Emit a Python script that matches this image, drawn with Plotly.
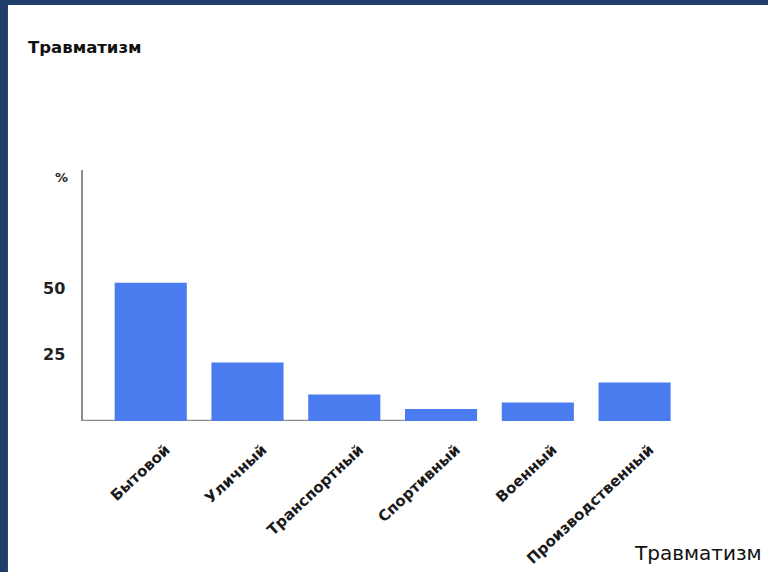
import plotly.graph_objects as go

categories = ["Бытовой", "Уличный", "Транспортный", "Спортивный", "Военный", "Производственный"]
values = [52, 22, 10, 4.5, 7, 14.5]
y_tick_vals = [25, 50]
y_tick_text = ["25", "50"]
chart_title = "Травматизм"
x_title = "Травматизм"
y_title = "%"

W, H = 768, 572
L, R, T, B = 83, 56.4, 170, 151
pw = W - L - R
ph = H - T - B

def px_to_paper_x(px):
    return (px - L) / pw

def px_to_paper_y(py):
    return (H - B - py) / ph

FONT = "DejaVu Sans"
NAVY = "#1f3d6b"
BLUE = "#4a7bef"

fig = go.Figure()
fig.add_trace(go.Bar(
    x=categories, y=values, width=0.745,
    marker=dict(color=BLUE, line=dict(width=0)),
    hoverinfo="skip",
))

fig.update_layout(
    width=W, height=H,
    margin=dict(l=L, r=R, t=T, b=B, pad=0, autoexpand=False),
    paper_bgcolor="white", plot_bgcolor="white",
    showlegend=False,
    title=dict(text=chart_title, x=28 / W, xanchor="left", xref="container",
               y=1 - 47 / H, yanchor="middle", yref="container",
               font=dict(family=FONT, size=16.5, color="#111111", weight=600)),
    xaxis=dict(range=[-0.7, 5.8], showgrid=False, zeroline=False, showline=False,
               automargin=False,
               tickangle=-43, ticks="", tickfont=dict(family=FONT, size=15, color="#1a1a1a", weight=600),
               ticklabelstandoff=16, ticklabelshift=15, fixedrange=True),
    yaxis=dict(range=[0, 94.4], showgrid=False, zeroline=False, showline=True,
               automargin=False,
               linecolor="#8c8c8c", linewidth=2.5,
               tickvals=y_tick_vals, ticktext=y_tick_text, ticks="",
               tickfont=dict(family=FONT, size=16, color="#222222", weight=600),
               ticklabelstandoff=12, fixedrange=True),
    annotations=[
        dict(text=y_title, xref="paper", yref="paper",
             x=px_to_paper_x(62), y=px_to_paper_y(177), xanchor="center", yanchor="middle",
             showarrow=False, font=dict(family=FONT, size=13, color="#222222", weight=600)),
        dict(text=x_title, xref="paper", yref="paper",
             x=px_to_paper_x(764), y=px_to_paper_y(553), xanchor="right", yanchor="middle",
             showarrow=False, font=dict(family=FONT, size=20, color="#111111", weight=500)),
    ],
    shapes=[
        # partial x-axis baseline
        dict(type="line", xref="x", yref="y", x0=-0.7, x1=2.65, y0=0, y1=0,
             line=dict(color="#8c8c8c", width=2.5), layer="below"),
        # dark frame: left strip and top strip
        dict(type="rect", xref="paper", yref="paper",
             x0=px_to_paper_x(0), x1=px_to_paper_x(8), y0=px_to_paper_y(H), y1=px_to_paper_y(0),
             fillcolor=NAVY, line=dict(width=0), layer="above"),
        dict(type="rect", xref="paper", yref="paper",
             x0=px_to_paper_x(0), x1=px_to_paper_x(W), y0=px_to_paper_y(5), y1=px_to_paper_y(0),
             fillcolor=NAVY, line=dict(width=0), layer="above"),
    ],
)

fig.write_html("out.html", config=dict(displayModeBar=False, staticPlot=True))
